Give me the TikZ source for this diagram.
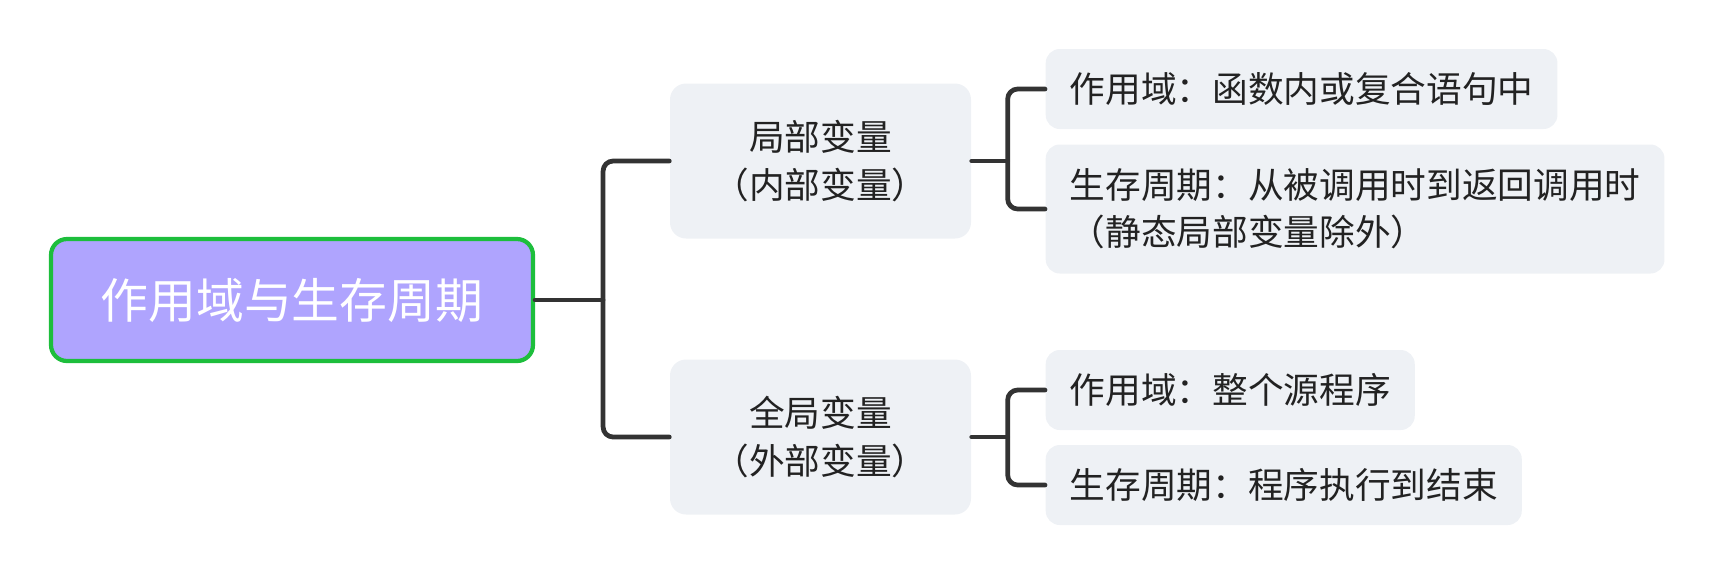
\documentclass[tikz,border=0pt]{standalone}
\usepackage{fontspec}
\usepackage{xcolor}
\usepackage{tikz}
\usetikzlibrary{positioning,calc}
\newfontfamily\cjk{Noto Sans CJK SC}
\definecolor{lavender}{HTML}{AFA4FE}
\definecolor{leafgreen}{HTML}{1DBE3C}
\definecolor{paleblue}{HTML}{EEF1F5}
\definecolor{ink}{HTML}{222222}
\definecolor{wire}{HTML}{333333}
\tikzset{
    every picture/.style={line cap=round,line join=round},
    rootnode/.style={draw=leafgreen,fill=lavender,line width=1.2pt,rounded corners=1.6mm,
      minimum width=48.2mm,minimum height=12.2mm,inner sep=2pt,
      text=white,font=\cjk\fontsize{13.6}{16}\selectfont,align=center},
    varnode/.style={fill=paleblue,rounded corners=1.6mm,
      minimum width=30.1mm,minimum height=15.5mm,inner sep=2pt,
      text=ink,font=\cjk\fontsize{10.15}{13.6}\selectfont,align=center},
    leafnode/.style={fill=paleblue,rounded corners=1.4mm,anchor=west,
      minimum height=8mm,inner xsep=2.4mm,inner ysep=1.5mm,
      text=ink,font=\cjk\fontsize{10.15}{13.4}\selectfont,align=left},
    branchline/.style={draw=wire,line width=1.35pt,rounded corners=1mm}
}
\begin{document}
\begin{tikzpicture}
  \useasboundingbox (0,0) rectangle (17.16,-5.76);
  % root and the two kinds of variable
  \node[rootnode] (root) at (2.92,-3.00) {作用域与生存周期};
  \node[varnode] (loc) at (8.205,-1.61) {局部变量\\（内部变量）};
  \node[varnode] (glob) at (8.205,-4.37) {全局变量\\（外部变量）};
  % leaves
  \node[leafnode] (locscope) at (10.45,-0.89) {作用域：函数内或复合语句中};
  \node[leafnode,minimum height=12.9mm] (loclife) at (10.45,-2.09)
    {生存周期：从被调用时到返回调用时\\（静态局部变量除外）};
  \node[leafnode] (globscope) at (10.45,-3.90) {作用域：整个源程序};
  \node[leafnode] (globlife) at (10.45,-4.85) {生存周期：程序执行到结束};
  % brackets
  \coordinate (rj) at ($(root.east)+(0.68,0)$);
  \coordinate (lj) at ($(loc.east)+(0.36,0)$);
  \coordinate (gj) at ($(glob.east)+(0.36,0)$);
  \draw[branchline,rounded corners=0pt] (root.east) -- (rj);
  \draw[branchline] (loc.west) -| (rj) |- (glob.west);
  \draw[branchline,rounded corners=0pt] (loc.east) -- (lj);
  \draw[branchline] (locscope.west) -| (lj) |- (loclife.west);
  \draw[branchline,rounded corners=0pt] (glob.east) -- (gj);
  \draw[branchline] (globscope.west) -| (gj) |- (globlife.west);
\end{tikzpicture}
\end{document}
